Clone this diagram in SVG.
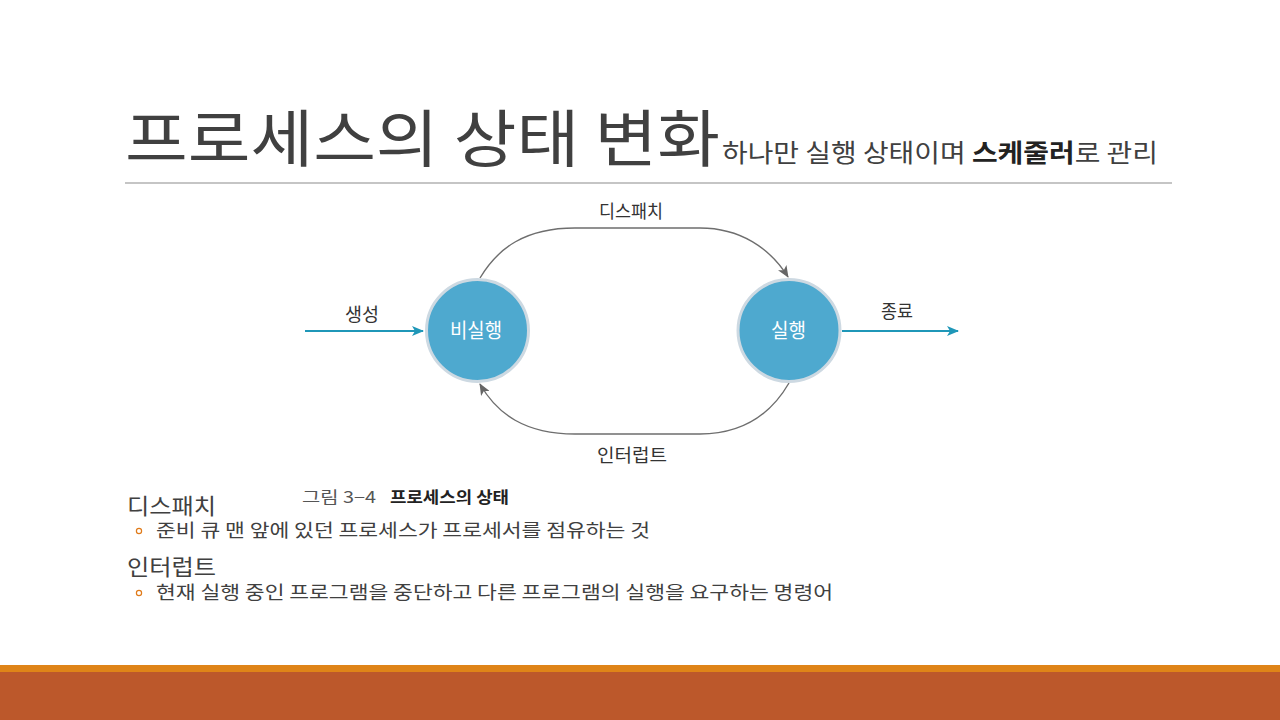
<svg xmlns="http://www.w3.org/2000/svg" width="1280" height="720" viewBox="0 0 1280 720">
<defs>
<marker id="grayArrow" viewBox="0 0 12 10" refX="11" refY="5" markerWidth="12" markerHeight="10" markerUnits="userSpaceOnUse" orient="auto">
<path d="M0,0 L12,5 L0,10 L3,5 Z" fill="#666"/>
</marker>
<marker id="tealArrow" viewBox="0 0 12 10" refX="11" refY="5" markerWidth="12" markerHeight="10" markerUnits="userSpaceOnUse" orient="auto">
<path d="M0,0 L12,5 L0,10 L3,5 Z" fill="#1f97b8"/>
</marker>
<style>
.kr{font-family:"Noto Sans CJK KR","Noto Sans",sans-serif;}
.state{fill:#4ea9cf;stroke:#cdd9e2;stroke-width:3;}
.stxt{fill:#ffffff;font-size:20px;}
.lbl{fill:#333;font-size:18px;}
.gray{fill:none;stroke:#6e6e6e;stroke-width:1.4;}
.teal{fill:none;stroke:#1f97b8;stroke-width:2;}
.body{fill:#404040;}
</style>
</defs>
<rect width="1280" height="720" fill="#ffffff"/>
<g id="title">
<text class="kr body" x="125" y="162" font-size="62" textLength="595" lengthAdjust="spacingAndGlyphs">프로세스의 상태 변화</text>
<text class="kr body" x="722" y="162" font-size="25" textLength="436" lengthAdjust="spacingAndGlyphs">하나만 실행 상태이며 <tspan font-weight="bold" fill="#222">스케줄러</tspan>로 관리</text>
<line x1="125" y1="183" x2="1172" y2="183" stroke="#8c8c8c" stroke-width="1.2"/>
</g>
<g id="connectors">
<path class="gray" d="M480,278 C498,248 525,228 575,228 L700,228 C740,228 770,248 788,277" marker-end="url(#grayArrow)"/>
<path class="gray" d="M789,383 C771,414 742,434 700,434 L575,434 C525,434 497,414 480,384" marker-end="url(#grayArrow)"/>
<line class="teal" x1="305" y1="331" x2="423" y2="331" marker-end="url(#tealArrow)"/>
<line class="teal" x1="842" y1="331" x2="958" y2="331" marker-end="url(#tealArrow)"/>
<text class="kr lbl" x="599" y="218" textLength="64" lengthAdjust="spacingAndGlyphs">디스패치</text>
<text class="kr lbl" x="597" y="462" textLength="70" lengthAdjust="spacingAndGlyphs">인터럽트</text>
<text class="kr lbl" x="345" y="321" textLength="34" lengthAdjust="spacingAndGlyphs">생성</text>
<text class="kr lbl" x="881" y="318" textLength="32" lengthAdjust="spacingAndGlyphs">종료</text>
</g>
<g id="node-notrunning">
<circle class="state" cx="477.5" cy="330.5" r="51"/>
<text class="kr stxt" x="450" y="338" textLength="52" lengthAdjust="spacingAndGlyphs">비실행</text>
</g>
<g id="node-running">
<circle class="state" cx="789" cy="330.5" r="51"/>
<text class="kr stxt" x="771" y="338" textLength="35" lengthAdjust="spacingAndGlyphs">실행</text>
</g>
<g id="caption">
<text class="kr" x="302" y="503" font-size="16" fill="#555" textLength="74" lengthAdjust="spacingAndGlyphs">그림 3−4</text>
<text class="kr" x="390" y="503" font-size="16" font-weight="bold" fill="#222" textLength="119" lengthAdjust="spacingAndGlyphs">프로세스의 상태</text>
</g>
<g id="body">
<text class="kr body" x="127" y="514" font-size="22" textLength="89" lengthAdjust="spacingAndGlyphs">디스패치</text>
<circle cx="139" cy="531" r="2.6" fill="none" stroke="#e07b1a" stroke-width="1.2"/>
<text class="kr body" x="156" y="537" font-size="18" textLength="494" lengthAdjust="spacingAndGlyphs">준비 큐 맨 앞에 있던 프로세스가 프로세서를 점유하는 것</text>
<text class="kr body" x="127" y="575" font-size="22" textLength="89" lengthAdjust="spacingAndGlyphs">인터럽트</text>
<circle cx="139" cy="593" r="2.6" fill="none" stroke="#e07b1a" stroke-width="1.2"/>
<text class="kr body" x="156" y="599" font-size="18" textLength="677" lengthAdjust="spacingAndGlyphs">현재 실행 중인 프로그램을 중단하고 다른 프로그램의 실행을 요구하는 명령어</text>
</g>
<g id="footer">
<rect x="0" y="665" width="1280" height="7" fill="#df8418"/>
<rect x="0" y="672" width="1280" height="48" fill="#bc582b"/>
</g>
</svg>
